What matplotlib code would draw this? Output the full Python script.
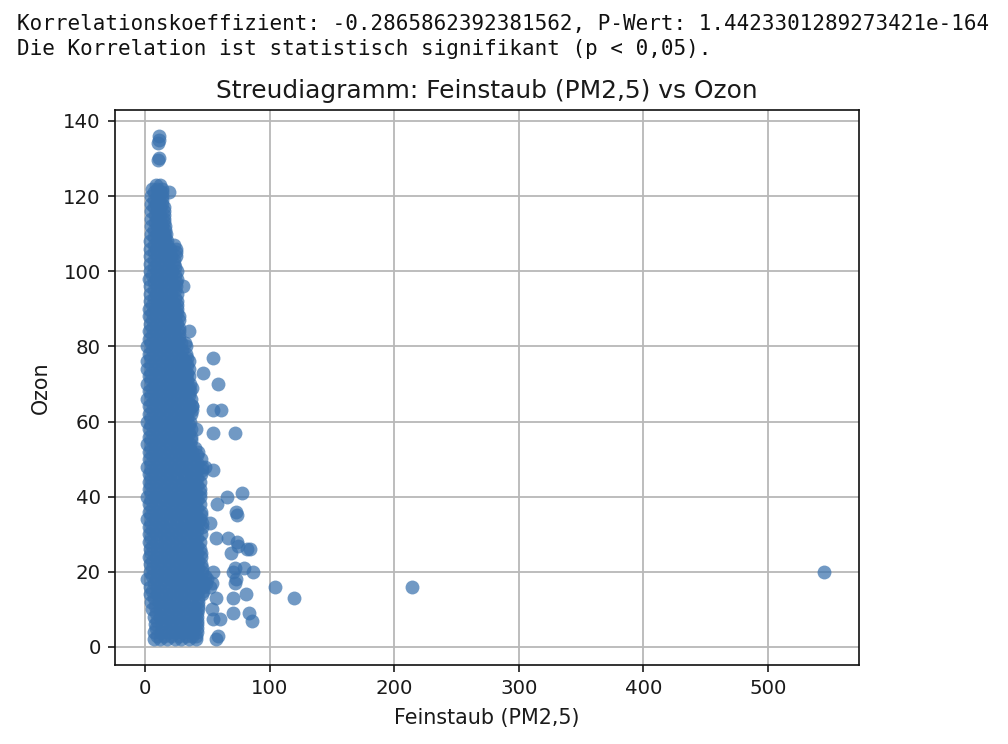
import matplotlib
matplotlib.use("Agg")
import matplotlib.pyplot as plt

text_line_1 = "Korrelationskoeffizient: -0.2865862392381562, P-Wert: 1.4423301289273421e-164"
text_line_2 = "Die Korrelation ist statistisch signifikant (p < 0,05)."
title = "Streudiagramm: Feinstaub (PM2,5) vs Ozon"
x_label = "Feinstaub (PM2,5)"
y_label = "Ozon"
x_ticks = [0, 100, 200, 300, 400, 500]
y_ticks = [0, 20, 40, 60, 80, 100, 120, 140]

# Dense body of the cloud, read row by row: ozone level -> PM2.5 values
row_ozon = [2, 4, 6, 8, 10, 12, 14, 16, 18, 20, 22, 24, 26, 28, 30, 32, 34, 36, 38, 40,
            42, 44, 46, 48, 50, 52, 54, 56, 58, 60, 62, 64, 66, 68, 70, 72, 74, 76, 78, 80,
            82, 84, 86, 88, 90, 92, 94, 96, 98, 100, 102, 104, 106, 108, 110, 112, 114,
            116, 118, 120, 122]
row_pm = [
    [7, 12, 18, 24, 29, 35, 41],
    [7, 13, 19, 25, 30, 36, 42],
    [8, 14, 20, 26, 32, 37, 42],
    [7, 12, 18, 25, 31, 36, 42],
    [6, 12, 19, 24, 30, 37, 43],
    [5, 11, 17, 23, 29, 36, 43],
    [4, 10, 16, 22, 28, 34, 40, 46],
    [4, 10, 17, 23, 29, 35, 41, 47, 52],
    [2, 9, 15, 21, 27, 33, 39, 45, 50],
    [4, 10, 16, 22, 28, 34, 40, 46],
    [4, 10, 16, 23, 29, 35, 41, 45],
    [3, 9, 15, 21, 27, 33, 39, 45],
    [4, 10, 16, 22, 28, 34, 40, 44],
    [3, 9, 16, 22, 28, 34, 40, 44],
    [3, 9, 15, 21, 27, 33, 39, 45],
    [3, 9, 15, 22, 28, 34, 40, 46],
    [2, 8, 14, 20, 26, 32, 38, 44],
    [3, 9, 15, 21, 27, 33, 39, 45],
    [3, 9, 16, 22, 28, 34, 40, 44],
    [2, 8, 14, 20, 26, 32, 38, 44],
    [3, 9, 15, 21, 27, 33, 39, 44],
    [3, 9, 15, 21, 28, 34, 40, 44],
    [3, 8, 14, 20, 26, 32, 38, 45],
    [2, 9, 15, 21, 27, 33, 39, 46],
    [3, 9, 15, 21, 27, 33, 39, 45],
    [3, 8, 14, 21, 27, 32, 38, 43],
    [2, 8, 14, 20, 26, 31, 36],
    [3, 9, 15, 21, 27, 33, 37],
    [3, 9, 15, 21, 27, 32, 37],
    [2, 8, 14, 20, 26, 31, 36],
    [3, 9, 15, 21, 27, 33, 37],
    [3, 9, 14, 20, 26, 32, 38],
    [2, 8, 14, 20, 26, 32, 37],
    [3, 9, 15, 21, 27, 33, 36],
    [2, 8, 14, 20, 26, 31, 36],
    [3, 9, 15, 21, 27, 33, 35],
    [2, 8, 14, 20, 26, 31, 35],
    [2, 8, 15, 21, 27, 32, 35],
    [3, 9, 15, 21, 27, 33],
    [2, 8, 14, 20, 26, 33],
    [3, 9, 15, 21, 27],
    [3, 9, 14, 20, 27],
    [4, 9, 15, 21, 26],
    [3, 9, 15, 21, 27],
    [3, 8, 14, 20, 26],
    [4, 10, 16, 22, 26],
    [4, 9, 15, 21, 26],
    [4, 10, 16, 22, 25],
    [3, 9, 15, 21, 26],
    [4, 10, 16, 22, 26],
    [4, 10, 16, 23],
    [4, 10, 16, 21, 25],
    [4, 9, 15, 20, 25],
    [4, 10, 15, 18],
    [5, 10, 15, 17],
    [5, 10, 14, 16],
    [5, 10, 15],
    [5, 10, 15],
    [5, 9, 14],
    [5, 10, 14],
    [6, 10, 14],
]

# In-between rows of the same body
row2_ozon = [3, 5, 7, 9, 11, 13, 15, 17, 19, 21, 23, 25, 27, 29, 31, 33, 35, 37, 39, 41,
             43, 45, 47, 49, 51, 53, 55, 57, 59, 61, 63, 65, 67, 69, 71, 73, 75, 77, 79, 81,
             83, 85, 87, 89, 91, 93, 95, 97, 99, 101, 103, 105, 107, 109, 111, 113, 115,
             117, 119, 121]
row2_pm = [
    [10, 15, 21, 27, 33, 38, 41],
    [9, 16, 22, 28, 33, 39, 42],
    [10, 16, 22, 28, 34, 39, 42],
    [9, 15, 21, 27, 33, 40, 42],
    [8, 14, 20, 27, 33, 39, 43],
    [7, 13, 19, 25, 31, 37, 43],
    [6, 12, 19, 25, 31, 37, 43, 47],
    [7, 13, 20, 26, 32, 38, 44, 49],
    [6, 12, 18, 24, 30, 36, 42, 48],
    [6, 13, 19, 25, 31, 37, 43, 46],
    [6, 13, 19, 26, 32, 38, 43],
    [5, 12, 18, 24, 30, 36, 42, 45],
    [6, 12, 19, 25, 31, 37, 42],
    [5, 12, 18, 25, 31, 37, 42],
    [6, 12, 18, 24, 30, 36, 42],
    [5, 12, 18, 25, 31, 37, 43, 46],
    [5, 11, 17, 23, 29, 35, 41, 45],
    [6, 12, 18, 24, 30, 36, 42],
    [5, 12, 19, 25, 31, 37, 42],
    [5, 11, 17, 23, 29, 35, 41, 44],
    [5, 12, 18, 24, 30, 36, 42],
    [5, 12, 18, 24, 31, 37, 42],
    [5, 11, 17, 23, 29, 35, 42, 46],
    [5, 12, 18, 24, 30, 36, 42],
    [6, 12, 18, 24, 30, 36, 42],
    [5, 11, 17, 24, 29, 35, 40],
    [5, 11, 17, 23, 28, 33, 37],
    [6, 12, 18, 24, 30, 35],
    [5, 12, 18, 24, 29, 35],
    [5, 11, 17, 23, 29, 34],
    [6, 12, 18, 24, 30, 35, 38],
    [6, 12, 17, 23, 29, 35],
    [5, 11, 17, 23, 29, 35],
    [6, 12, 18, 24, 30, 35],
    [5, 11, 17, 23, 28, 34],
    [5, 12, 18, 24, 30, 34],
    [5, 11, 17, 23, 29, 34],
    [5, 11, 18, 24, 30, 34],
    [6, 12, 18, 24, 30],
    [5, 11, 17, 23, 29, 32],
    [6, 12, 18, 24, 27],
    [6, 12, 17, 23, 27],
    [6, 12, 18, 24, 27],
    [6, 12, 18, 24, 26],
    [6, 11, 17, 23, 26],
    [7, 13, 19, 24],
    [7, 12, 18, 24],
    [7, 13, 19, 25],
    [6, 12, 18, 24],
    [7, 13, 19, 24],
    [7, 13, 19, 23],
    [7, 13, 18, 25],
    [7, 12, 18, 23],
    [7, 12, 16],
    [7, 12, 16],
    [8, 12, 15],
    [8, 12, 15],
    [7, 12, 15],
    [7, 11, 14],
    [7, 12, 14],
]

# Sparse points read individually
single_pm = [19, 11, 11, 10.5, 10.5, 11.5, 12, 9, 30.5, 35, 55, 47, 59, 38, 55, 61, 38, 41, 55, 72,
             55, 48, 78, 66, 58, 73, 74, 52, 57, 66.5, 74, 75, 69, 82, 84, 72, 79.5, 71, 87, 55,
             73, 72, 54, 104, 214, 119.5, 57, 71, 81, 54, 71, 83.5, 86, 60, 55, 59, 57, 545]
single_ozon = [121, 136, 135, 134, 129.5, 130, 123, 123, 96, 84, 77, 73, 70, 69, 63, 63, 64, 58, 57, 57,
               47, 48, 41, 40, 38, 36, 35, 33, 29, 29, 28, 27, 25, 26, 26, 21, 21, 20, 20, 20,
               18, 17, 17, 16, 16, 13, 13, 13, 14, 10, 9, 9, 7, 7.5, 7.5, 3, 2, 20]

feinstaub = ([v for row in row_pm for v in row] + [v for row in row2_pm for v in row] + single_pm)
ozon = ([o for o, row in zip(row_ozon, row_pm) for _ in row]
        + [o for o, row in zip(row2_ozon, row2_pm) for _ in row] + single_ozon)

fig = plt.figure(figsize=(10.08, 7.44), dpi=100)
ax = fig.add_axes([115 / 1008, 1 - 665 / 744, (859 - 115) / 1008, (665 - 110) / 744])

ax.grid(True, color="#b8b8b8", linewidth=1.3)
ax.set_axisbelow(True)
ax.scatter(feinstaub, ozon, s=100, color="#3a72ae", alpha=0.72, linewidths=0, zorder=3)
ax.set_xlim(-24, 573)
ax.set_ylim(-4.8, 142.9)
ax.set_xticks(x_ticks)
ax.set_yticks(y_ticks)
ax.tick_params(labelsize=14.2, length=5.2, width=1.2, pad=5, colors="#1a1a1a")
for s in ax.spines.values():
    s.set_linewidth(1.2)
    s.set_color("#111111")
ax.set_xlabel(x_label, fontsize=14.9, color="#1a1a1a", labelpad=7)
ax.set_ylabel(y_label, fontsize=14.9, color="#1a1a1a", labelpad=9)
ax.set_title(title, fontsize=17.9, color="#1a1a1a", pad=8.5)

fig.text(17 / 1008, 1 - 24 / 744, text_line_1, family="DejaVu Sans Mono", fontsize=15,
         color="#111111", va="center", ha="left")
fig.text(17 / 1008, 1 - 49 / 744, text_line_2, family="DejaVu Sans Mono", fontsize=15,
         color="#111111", va="center", ha="left")

fig.savefig("out.png", dpi=100, facecolor="white")
